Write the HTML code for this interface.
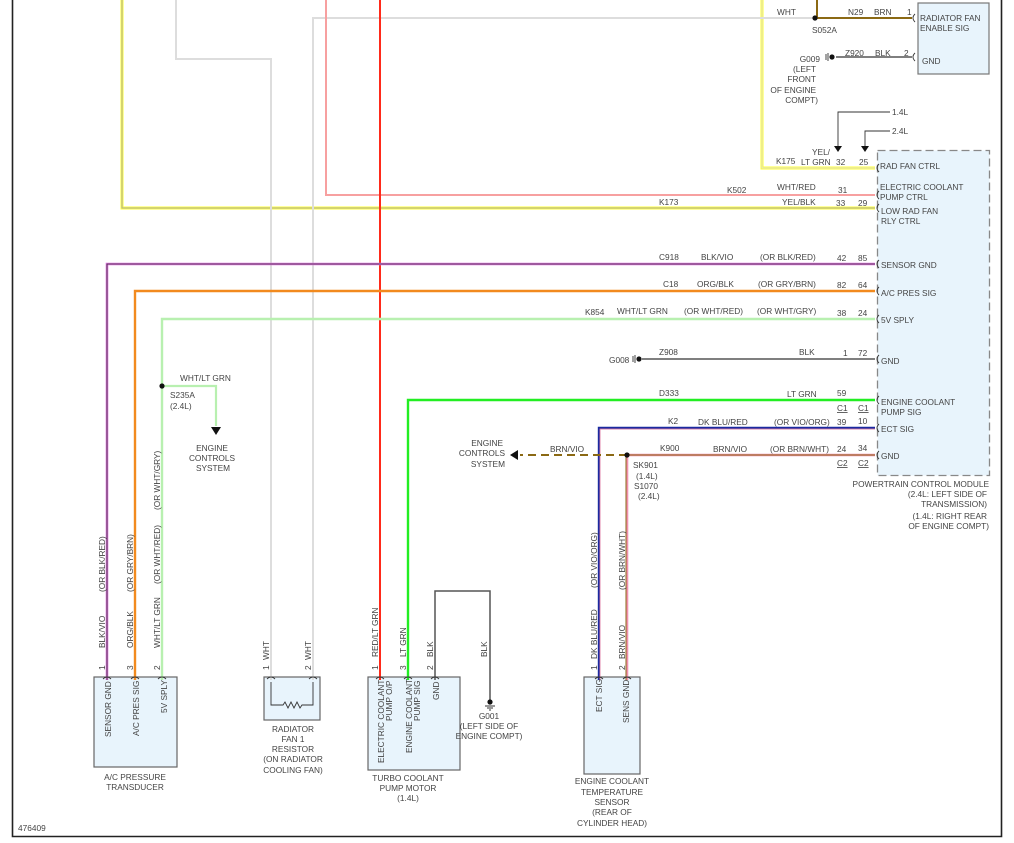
<!DOCTYPE html>
<html><head><meta charset="utf-8"><style>
html,body{margin:0;padding:0;background:#fff;}
svg{display:block;}
text{font-family:"Liberation Sans",sans-serif;font-size:8.3px;fill:#444;}
</style></head><body>
<svg width="1014" height="843" viewBox="0 0 1014 843" xmlns="http://www.w3.org/2000/svg">
<!-- frame -->
<path d="M12.5 0 V836.5 H1001.5 V0" fill="none" stroke="#222" stroke-width="1.6"/>

<!-- boxes -->
<rect x="918" y="3" width="71" height="71" fill="#e8f4fc" stroke="#777" stroke-width="1.2"/>
<rect x="877.5" y="150.5" width="112" height="325" fill="#e8f4fc" stroke="#888" stroke-width="1.3" stroke-dasharray="8,4"/>
<rect x="94" y="677" width="83" height="90" fill="#e8f4fc" stroke="#666" stroke-width="1.2"/>
<rect x="264" y="677" width="56" height="43" fill="#e8f4fc" stroke="#666" stroke-width="1.2"/>
<rect x="368" y="677" width="92" height="93" fill="#e8f4fc" stroke="#666" stroke-width="1.2"/>
<rect x="584" y="677" width="56" height="97" fill="#e8f4fc" stroke="#666" stroke-width="1.2"/>

<g fill="none">
<!-- yellow K173 -->
<path d="M122 0 V208 H875" stroke="#ffff33" stroke-width="3"/>
<path d="M122 0 V208 H875" stroke="#aaa" stroke-width="1"/>
<!-- yellow K175 -->
<path d="M762 0 V168 H875" stroke="#ffff33" stroke-width="3"/>
<path d="M762 0 V168 H875" stroke="#ddd" stroke-width="1"/>
<!-- grey WHT -->
<path d="M176 0 V59 H271 V680" stroke="#ddd" stroke-width="2"/>
<path d="M313 680 V18 H815" stroke="#ddd" stroke-width="2"/>
<!-- pink K502 -->
<path d="M326 0 V195 H875" stroke="#f7a0a0" stroke-width="2"/>
<!-- red -->
<path d="M380 0 V680" stroke="#ff2a1a" stroke-width="2"/>
<!-- brown up from splice -->
<path d="M817 0 V18" stroke="#8b6914" stroke-width="2"/>
<path d="M815 18 H912" stroke="#8b6914" stroke-width="2"/>
<!-- Z920 -->
<path d="M836 57 H912" stroke="#555" stroke-width="1.5"/>
<!-- purple -->
<path d="M107 680 V264 H875" stroke="#e070e0" stroke-width="2.6"/>
<path d="M107 680 V264 H875" stroke="#333" stroke-width="0.8"/>
<!-- orange -->
<path d="M135 680 V291 H875" stroke="#f28a1e" stroke-width="2.4"/>
<!-- light green -->
<path d="M162 680 V319 H875" stroke="#b8f0b0" stroke-width="2.4"/>
<path d="M162 386 H216 V426" stroke="#b8f0b0" stroke-width="2.2"/>
<!-- G008 -->
<path d="M642 359 H875" stroke="#555" stroke-width="1.5"/>
<!-- green -->
<path d="M408 680 V400 H875" stroke="#22ee22" stroke-width="2.4"/>
<!-- K2 -->
<path d="M599 680 V428 H875" stroke="#1a2aa0" stroke-width="2.4"/>
<path d="M600 680 V429 H875" stroke="#f080a0" stroke-width="0.8"/>
<!-- K900 -->
<path d="M627 680 V455 H875" stroke="#f090b0" stroke-width="2.6"/>
<path d="M626 680 V455 H875" stroke="#8b6914" stroke-width="1"/>
<path d="M627 455 H520" stroke="#8b6914" stroke-width="2" stroke-dasharray="8,5"/>
<!-- BLK loop -->
<path d="M435 680 V591 H490 V700" stroke="#555" stroke-width="1.5"/>
<!-- 1.4L/2.4L arrows -->
<path d="M890 112 H838 V148" stroke="#333" stroke-width="0.9"/>
<path d="M890 131 H865 V148" stroke="#333" stroke-width="0.9"/>
<!-- resistor -->
<path d="M271 682 V705 H283 l2 -3 l3 6 l3 -6 l3 6 l3 -6 l3 6 l2 -3 H313 V682" stroke="#333" stroke-width="0.9"/>
</g>
<!-- arrowheads / dots -->
<g fill="#111">
<polygon points="834,146 842,146 838,152"/>
<polygon points="861,146 869,146 865,152"/>
<polygon points="211,427 221,427 216,435"/>
<polygon points="510,455 518,450 518,460"/>
<circle cx="815" cy="18" r="2.6"/><circle cx="162" cy="386" r="2.6"/><circle cx="627" cy="455" r="2.6"/>
<circle cx="832" cy="57" r="2.6"/><circle cx="639" cy="359" r="2.6"/><circle cx="490" cy="702" r="2.6"/>
</g>
<g stroke="#333" stroke-width="0.9">
<path d="M828 53 V61 M826 54 V60"/><path d="M635 355 V363 M633 356 V362"/>
<path d="M485 706 H495 M487 708 H493 M489 710 H491"/>
</g>
<!-- connector cups -->
<g fill="none" stroke="#333" stroke-width="0.9">
<path d="M915 14 q-4 4 0 8 M915 53 q-4 4 0 8"/>
<path d="M879 164 q-4 4 0 8 M879 191 q-4 4 0 8 M879 204 q-4 4 0 8 M879 260 q-4 4 0 8 M879 287 q-4 4 0 8 M879 315 q-4 4 0 8 M879 355 q-4 4 0 8 M879 396 q-4 4 0 8 M879 424 q-4 4 0 8 M879 451 q-4 4 0 8"/>
<path d="M103 679 q4 -4 8 0 M131 679 q4 -4 8 0 M158 679 q4 -4 8 0 M267 679 q4 -4 8 0 M309 679 q4 -4 8 0 M376 679 q4 -4 8 0 M404 679 q4 -4 8 0 M431 679 q4 -4 8 0 M595 679 q4 -4 8 0 M623 679 q4 -4 8 0"/>
</g>

<!-- top right labels -->
<text x="777" y="15">WHT</text><text x="812" y="33">S052A</text>
<text x="848" y="15">N29</text><text x="874" y="15">BRN</text><text x="907" y="15">1</text>
<text x="920" y="21">RADIATOR FAN</text><text x="920" y="31">ENABLE SIG</text>
<text x="845" y="56">Z920</text><text x="875" y="56">BLK</text><text x="904" y="56">2</text><text x="922" y="64">GND</text>
<g text-anchor="end"><text x="820" y="62">G009</text><text x="816" y="72">(LEFT</text><text x="816" y="82">FRONT</text><text x="816" y="93">OF ENGINE</text><text x="818" y="103">COMPT)</text></g>
<text x="892" y="115">1.4L</text><text x="892" y="134">2.4L</text>
<text x="812" y="155">YEL/</text><text x="801" y="165">LT GRN</text><text x="776" y="164">K175</text>
<text x="836" y="165">32</text><text x="859" y="165">25</text>
<text x="880" y="169">RAD FAN CTRL</text>
<text x="727" y="193">K502</text><text x="777" y="190">WHT/RED</text><text x="838" y="193">31</text>
<text x="880" y="190">ELECTRIC COOLANT</text><text x="880" y="200">PUMP CTRL</text>
<text x="659" y="205">K173</text><text x="782" y="205">YEL/BLK</text><text x="836" y="206">33</text><text x="858" y="206">29</text>
<text x="881" y="214">LOW RAD FAN</text><text x="881" y="224">RLY CTRL</text>
<!-- mid labels -->
<text x="659" y="260">C918</text><text x="701" y="260">BLK/VIO</text><text x="760" y="260">(OR BLK/RED)</text><text x="837" y="261">42</text><text x="858" y="261">85</text><text x="881" y="268">SENSOR GND</text>
<text x="663" y="287">C18</text><text x="697" y="287">ORG/BLK</text><text x="758" y="287">(OR GRY/BRN)</text><text x="837" y="288">82</text><text x="858" y="288">64</text><text x="881" y="296">A/C PRES SIG</text>
<text x="585" y="315">K854</text><text x="617" y="314">WHT/LT GRN</text><text x="684" y="314">(OR WHT/RED)</text><text x="757" y="314">(OR WHT/GRY)</text><text x="837" y="316">38</text><text x="858" y="316">24</text><text x="881" y="323">5V SPLY</text>
<text x="609" y="363">G008</text><text x="659" y="355">Z908</text><text x="799" y="355">BLK</text><text x="843" y="356">1</text><text x="858" y="356">72</text><text x="881" y="364">GND</text>
<text x="659" y="396">D333</text><text x="787" y="397">LT GRN</text><text x="837" y="396">59</text>
<text x="837" y="411" text-decoration="underline">C1</text><text x="858" y="411" text-decoration="underline">C1</text>
<text x="881" y="405">ENGINE COOLANT</text><text x="881" y="415">PUMP SIG</text>
<text x="668" y="424">K2</text><text x="698" y="425">DK BLU/RED</text><text x="774" y="425">(OR VIO/ORG)</text><text x="837" y="425">39</text><text x="858" y="424">10</text><text x="881" y="432">ECT SIG</text>
<text x="660" y="451">K900</text><text x="713" y="452">BRN/VIO</text><text x="770" y="452">(OR BRN/WHT)</text><text x="837" y="452">24</text><text x="858" y="451">34</text><text x="881" y="459">GND</text>
<text x="837" y="466" text-decoration="underline">C2</text><text x="858" y="466" text-decoration="underline">C2</text>
<text x="633" y="468">SK901</text><text x="636" y="479">(1.4L)</text><text x="634" y="489">S1070</text><text x="638" y="499">(2.4L)</text>
<g text-anchor="end"><text x="989" y="487">POWERTRAIN CONTROL MODULE</text><text x="987" y="497">(2.4L: LEFT SIDE OF</text><text x="987" y="507">TRANSMISSION)</text><text x="987" y="519">(1.4L: RIGHT REAR</text><text x="989" y="529">OF ENGINE COMPT)</text></g>
<text x="550" y="452">BRN/VIO</text>
<g text-anchor="end"><text x="503" y="446">ENGINE</text><text x="505" y="456">CONTROLS</text><text x="505" y="467">SYSTEM</text></g>
<text x="180" y="381">WHT/LT GRN</text><text x="170" y="398">S235A</text><text x="170" y="409">(2.4L)</text>
<g text-anchor="middle"><text x="212" y="451">ENGINE</text><text x="212" y="461">CONTROLS</text><text x="213" y="471">SYSTEM</text></g>

<!-- vertical wire labels -->
<g transform="rotate(-90)">
<text x="-670" y="105">1</text><text x="-648" y="105">BLK/VIO</text><text x="-592" y="105">(OR BLK/RED)</text>
<text x="-670" y="133">3</text><text x="-648" y="133">ORG/BLK</text><text x="-592" y="133">(OR GRY/BRN)</text>
<text x="-670" y="160">2</text><text x="-648" y="160">WHT/LT GRN</text><text x="-584" y="160">(OR WHT/RED)</text><text x="-510" y="160">(OR WHT/GRY)</text>
<text x="-670" y="269">1</text><text x="-660" y="269">WHT</text>
<text x="-670" y="311">2</text><text x="-660" y="311">WHT</text>
<text x="-670" y="378">1</text><text x="-657" y="378">RED/LT GRN</text>
<text x="-670" y="406">3</text><text x="-657" y="406">LT GRN</text>
<text x="-670" y="433">2</text><text x="-657" y="433">BLK</text>
<text x="-657" y="487">BLK</text>
<text x="-670" y="597">1</text><text x="-659" y="597">DK BLU/RED</text><text x="-588" y="597">(OR VIO/ORG)</text>
<text x="-670" y="625">2</text><text x="-659" y="625">BRN/VIO</text><text x="-590" y="625">(OR BRN/WHT)</text>
<!-- in-box -->
<text x="-737" y="111">SENSOR GND</text><text x="-736" y="139">A/C PRES SIG</text><text x="-713" y="167">5V SPLY</text>
<text x="-763" y="384">ELECTRIC COOLANT</text><text x="-721" y="392">PUMP O/P</text>
<text x="-753" y="412">ENGINE COOLANT</text><text x="-721" y="420">PUMP SIG</text>
<text x="-700" y="439">GND</text>
<text x="-712" y="602">ECT SIG</text><text x="-723" y="629">SENS GND</text>
</g>

<!-- bottom labels -->
<g text-anchor="middle">
<text x="135" y="780">A/C PRESSURE</text><text x="135" y="790">TRANSDUCER</text>
<text x="293" y="732">RADIATOR</text><text x="293" y="742">FAN 1</text><text x="293" y="752">RESISTOR</text><text x="293" y="762">(ON RADIATOR</text><text x="293" y="773">COOLING FAN)</text>
<text x="408" y="781">TURBO COOLANT</text><text x="408" y="791">PUMP MOTOR</text><text x="408" y="801">(1.4L)</text>
<text x="489" y="719">G001</text><text x="489" y="729">(LEFT SIDE OF</text><text x="489" y="739">ENGINE COMPT)</text>
<text x="612" y="784">ENGINE COOLANT</text><text x="612" y="795">TEMPERATURE</text><text x="612" y="805">SENSOR</text><text x="612" y="815">(REAR OF</text><text x="612" y="826">CYLINDER HEAD)</text>
</g>
<text x="18" y="831">476409</text>
</svg>
</body></html>
